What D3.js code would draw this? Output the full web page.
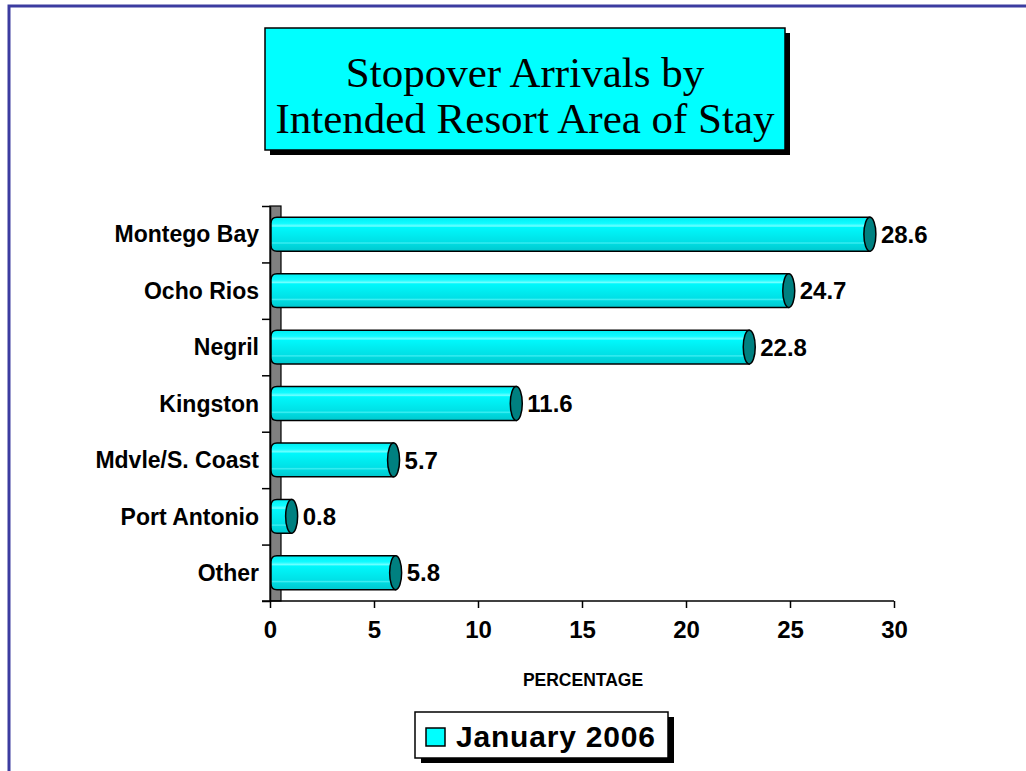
<!DOCTYPE html>
<html>
<head>
<meta charset="utf-8">
<script src="https://cdn.jsdelivr.net/npm/d3@7"></script>
<style>
  html, body { margin: 0; padding: 0; background: #fff; }
  svg { display: block; }
</style>
</head>
<body>
<div id="chart"></div>
<script>
// data
const categories = ['Montego Bay', 'Ocho Rios', 'Negril', 'Kingston', 'Mdvle/S. Coast', 'Port Antonio', 'Other']
const values = [28.6, 24.7, 22.8, 11.6, 5.7, 0.8, 5.8]
const xTicks = [0, 5, 10, 15, 20, 25, 30]
const titleLines = ['Stopover Arrivals by', 'Intended Resort Area of Stay']
const seriesName = 'January 2006'
const axisTitle = 'PERCENTAGE'

const W = 1026, H = 771
const plot = {left: 270, right: 894, top: 206, bottom: 601}
const depth = 5   // fake 3d offset of the cylinders
const wallW = 11

const svg = d3.select('#chart').append('svg')
    .attr('width', W)
    .attr('height', H)

// gradient for the cylinder body
const defs = svg.append('defs')
const grad = defs.append('linearGradient')
    .attr('id', 'cyl')
    .attr('x1', 0).attr('y1', 0).attr('x2', 0).attr('y2', 1)
const stops = [
  [0, '#00eef2'], [0.18, '#10fbff'], [0.26, '#70ffff'], [0.3, '#00f8fc'],
  [0.55, '#00eaee'], [0.72, '#00e0e6'], [0.76, '#40eef2'], [0.8, '#00dadf'],
  [1, '#00c8cf']
]
grad.selectAll('stop').data(stops).enter().append('stop')
    .attr('offset', d => d[0])
    .attr('stop-color', d => d[1])

// outer frame
svg.append('rect')
    .attr('x', 9).attr('y', 6)
    .attr('width', 1040).attr('height', 800)
    .attr('fill', 'none')
    .attr('stroke', '#3c3ca0')
    .attr('stroke-width', 3)

// title box with drop shadow
const tb = {x: 265, y: 28, w: 520, h: 122}
svg.append('rect')
    .attr('x', tb.x + 5).attr('y', tb.y + 5)
    .attr('width', tb.w).attr('height', tb.h)
    .attr('fill', '#000')
svg.append('rect')
    .attr('x', tb.x).attr('y', tb.y)
    .attr('width', tb.w).attr('height', tb.h)
    .attr('fill', '#00ffff')
    .attr('stroke', '#000')
    .attr('stroke-width', 1.5)
svg.selectAll('.title').data(titleLines).enter().append('text')
    .attr('class', 'title')
    .attr('x', tb.x + tb.w / 2)
    .attr('y', (d, i) => 87 + i * 46)
    .attr('text-anchor', 'middle')
    .style('font-family', '"Liberation Serif", "DejaVu Serif", serif')
    .style('font-size', '43px')
    .text(d => d)

const x = d3.scaleLinear()
    .domain([0, 30])
    .range([plot.left, plot.right])

const y = d3.scaleBand()
    .domain(categories)
    .range([plot.top, plot.bottom])
    .paddingInner(0.4)
    .paddingOuter(0.2)

const yEdges = d3.scaleLinear()
    .domain([0, categories.length])
    .range([plot.top, plot.bottom])

// gray side wall
svg.append('rect')
    .attr('x', plot.left).attr('y', plot.top)
    .attr('width', wallW).attr('height', plot.bottom - plot.top)
    .attr('fill', '#808080')
    .attr('stroke', '#000')
    .attr('stroke-width', 1.2)

// category axis (ticks between bands)
const yAxis = d3.axisLeft(yEdges)
    .tickValues(d3.range(categories.length + 1))
    .tickFormat('')
    .tickSize(8)
    .tickSizeOuter(0)
svg.append('g')
    .attr('transform', 'translate(' + plot.left + ',0)')
    .call(yAxis)
    .call(g => g.selectAll('line, path').attr('stroke', '#000').attr('stroke-width', 1.5))

svg.selectAll('.cat').data(categories).enter().append('text')
    .attr('class', 'cat')
    .attr('x', 259)
    .attr('y', d => y(d) + y.bandwidth() / 2)
    .attr('dy', '0.36em')
    .attr('text-anchor', 'end')
    .style('font-family', '"Liberation Sans", Arial, sans-serif')
    .style('font-weight', 'bold')
    .style('font-size', '23px')
    .text(d => d)

// value axis
const xAxis = d3.axisBottom(x)
    .tickValues(xTicks)
    .tickSize(7)
    .tickSizeOuter(0)
    .tickPadding(13)
svg.append('g')
    .attr('transform', 'translate(0,' + plot.bottom + ')')
    .call(xAxis)
    .call(g => g.selectAll('line, path').attr('stroke', '#000').attr('stroke-width', 1.5))
    .call(g => g.select('.domain').attr('d', 'M' + (plot.left - 8) + ',0H' + plot.right))
    .call(g => g.selectAll('text')
        .attr('fill', '#000')
        .style('font-family', '"Liberation Sans", Arial, sans-serif')
        .style('font-weight', 'bold')
        .style('font-size', '24px'))

svg.append('text')
    .attr('x', 583)
    .attr('y', 686)
    .attr('text-anchor', 'middle')
    .style('font-family', '"Liberation Sans", Arial, sans-serif')
    .style('font-weight', 'bold')
    .style('font-size', '17.5px')
    .text(axisTitle)

// cylinders
const rows = categories.map((c, i) => ({cat: c, value: values[i]}))
const bar = svg.selectAll('.bar').data(rows).enter().append('g')
    .attr('class', 'bar')

const r = 6 // radius of the left rounding and of the end cap
bar.append('path')
    .attr('d', d => {
      const x0 = x(0) + 1, x1 = x(d.value) + depth
      const y0 = y(d.cat), h = y.bandwidth()
      return 'M' + x1 + ',' + y0 + 'H' + (x0 + r) +
        'Q' + x0 + ',' + y0 + ' ' + x0 + ',' + (y0 + r) +
        'V' + (y0 + h - r) +
        'Q' + x0 + ',' + (y0 + h) + ' ' + (x0 + r) + ',' + (y0 + h) +
        'H' + x1 + 'Z'
    })
    .attr('fill', 'url(#cyl)')
    .attr('stroke', '#000')
    .attr('stroke-width', 1.5)

bar.append('ellipse')
    .attr('cx', d => x(d.value) + depth)
    .attr('cy', d => y(d.cat) + y.bandwidth() / 2)
    .attr('rx', r)
    .attr('ry', y.bandwidth() / 2)
    .attr('fill', '#008080')
    .attr('stroke', '#000')
    .attr('stroke-width', 1.5)

bar.append('text')
    .attr('x', d => x(d.value) + depth + r + 5)
    .attr('y', d => y(d.cat) + y.bandwidth() / 2)
    .attr('dy', '0.36em')
    .style('font-family', '"Liberation Sans", Arial, sans-serif')
    .style('font-weight', 'bold')
    .style('font-size', '24px')
    .text(d => d.value.toFixed(1))

// legend
const lg = {x: 415, y: 712, w: 253, h: 46}
svg.append('rect')
    .attr('x', lg.x + 6).attr('y', lg.y + 5)
    .attr('width', lg.w).attr('height', lg.h)
    .attr('fill', '#000')
svg.append('rect')
    .attr('x', lg.x).attr('y', lg.y)
    .attr('width', lg.w).attr('height', lg.h)
    .attr('fill', '#fff')
    .attr('stroke', '#000')
    .attr('stroke-width', 1.5)
svg.append('rect')
    .attr('x', lg.x + 11).attr('y', lg.y + 16)
    .attr('width', 19).attr('height', 18)
    .attr('fill', '#00ffff')
    .attr('stroke', '#000')
    .attr('stroke-width', 1.5)
svg.append('text')
    .attr('x', lg.x + 41)
    .attr('y', lg.y + 35)
    .style('font-family', '"Liberation Sans", Arial, sans-serif')
    .style('font-weight', 'bold')
    .style('font-size', '30px')
    .style('letter-spacing', '0.8px')
    .text(seriesName)
</script>
</body>
</html>
